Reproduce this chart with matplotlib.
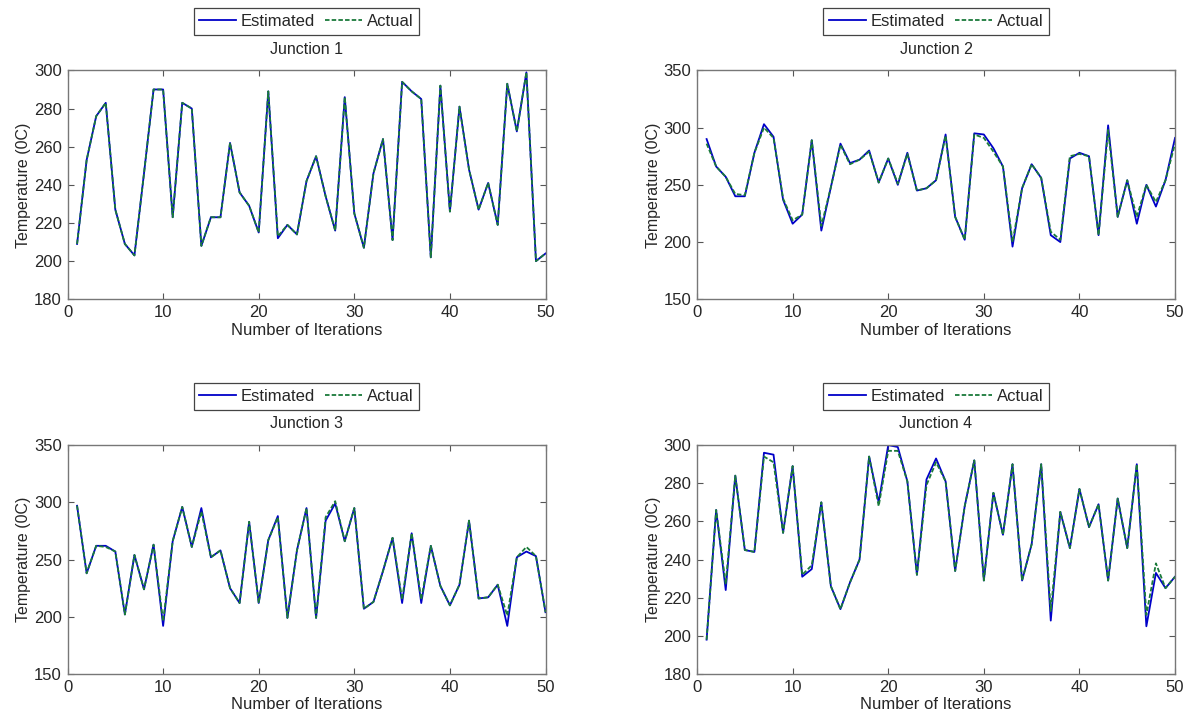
import numpy as np
import matplotlib
matplotlib.use("Agg")
import matplotlib.pyplot as plt

plt.rcParams["font.family"] = ["Liberation Sans", "DejaVu Sans"]

iterations = np.arange(1, 51)

est_j1 = [209, 253, 276, 283, 227, 209, 203, 246, 290, 290, 223, 283, 280, 208, 223,
          223, 262, 236, 229, 215, 289, 212, 219, 214, 242, 255, 234, 216, 286, 225,
          207, 246, 264, 211, 294, 289, 285, 202, 292, 226, 281, 248, 227, 241, 219,
          293, 268, 299, 200, 204]
act_j1 = [209, 253, 276, 283, 227, 209, 203, 246, 290, 290, 223, 283, 280, 208, 223,
          223, 262, 236, 229, 215, 289, 213, 219, 214, 242, 255, 234, 216, 286, 225,
          207, 246, 264, 211, 294, 289, 285, 202, 292, 226, 281, 248, 227, 241, 219,
          293, 268, 299, 200, 204]

est_j2 = [290, 266, 257, 240, 240, 278, 303, 292, 237, 216, 224, 289, 210, 248, 286,
          269, 272, 280, 252, 273, 250, 278, 245, 247, 254, 294, 222, 202, 295, 294,
          282, 266, 196, 247, 268, 256, 206, 200, 273, 278, 275, 206, 302, 222, 254,
          216, 250, 231, 254, 291]
act_j2 = [286, 266, 257, 242, 241, 278, 300, 291, 238, 219, 224, 289, 214, 248, 285,
          268, 272, 279, 252, 273, 251, 277, 245, 247, 254, 293, 222, 202, 294, 291,
          279, 266, 200, 247, 268, 256, 209, 202, 275, 277, 275, 206, 298, 222, 254,
          222, 250, 235, 254, 286]

est_j3 = [297, 238, 262, 262, 257, 202, 254, 224, 263, 192, 266, 296, 261, 295, 252,
          258, 225, 212, 283, 212, 267, 288, 199, 258, 295, 199, 284, 299, 266, 295,
          207, 213, 240, 269, 212, 273, 212, 262, 227, 210, 228, 284, 216, 217, 228,
          192, 252, 257, 253, 204]
act_j3 = [297, 238, 262, 261, 257, 202, 254, 224, 263, 196, 266, 296, 261, 292, 252,
          258, 225, 212, 283, 212, 267, 287, 199, 258, 295, 199, 287, 301, 266, 295,
          207, 213, 240, 269, 215, 273, 215, 262, 227, 210, 228, 284, 216, 217, 228,
          201, 252, 261, 253, 204]

est_j4 = [198, 266, 224, 284, 245, 244, 296, 295, 254, 289, 231, 235, 270, 226, 214,
          228, 240, 294, 270, 300, 299, 281, 232, 282, 293, 281, 234, 268, 292, 229,
          275, 253, 290, 229, 248, 290, 208, 265, 246, 277, 257, 269, 229, 272, 246,
          290, 205, 233, 225, 231]
act_j4 = [198, 266, 227, 284, 245, 244, 294, 291, 254, 289, 232, 237, 270, 226, 214,
          228, 240, 294, 268, 297, 297, 281, 232, 279, 291, 281, 234, 268, 292, 229,
          275, 253, 290, 229, 248, 290, 213, 265, 246, 277, 257, 269, 229, 272, 246,
          290, 211, 238, 225, 231]

titles = ["Junction 1", "Junction 2", "Junction 3", "Junction 4"]
ylims = [(180, 300), (150, 350), (150, 350), (180, 300)]
ysteps = [20, 50, 50, 20]

estimated = [est_j1, est_j2, est_j3, est_j4]
actual = [act_j1, act_j2, act_j3, act_j4]

fig = plt.figure(figsize=(11.95, 7.22), dpi=100)

# axes boxes in figure fractions (left, bottom, width, height)
boxes = [
    (0.0565, 0.5855, 0.400, 0.317),
    (0.5833, 0.5855, 0.400, 0.317),
    (0.0565, 0.0665, 0.400, 0.317),
    (0.5833, 0.0665, 0.400, 0.317),
]

txt = "#262626"

for k in range(4):
    ax = fig.add_axes(boxes[k])
    ax.plot(iterations, estimated[k], color="#0000c8", lw=1.3, label="Estimated")
    ax.plot(iterations, actual[k], color="#1a7a3a", lw=1.3, ls="--",
            dashes=(2.5, 1.2), label="Actual")

    ax.set_xlim(0, 50)
    ax.set_ylim(*ylims[k])
    ax.set_xticks(np.arange(0, 51, 10))
    ax.set_yticks(np.arange(ylims[k][0], ylims[k][1] + 1, ysteps[k]))
    ax.tick_params(direction="in", top=True, right=True, labelsize=12,
                   length=4, pad=4, color="#555555", labelcolor=txt)
    for sp in ax.spines.values():
        sp.set_color("#777777")
        sp.set_linewidth(1.0)

    ax.set_xlabel("Number of Iterations", fontsize=12, labelpad=2, color=txt)
    ax.set_ylabel("Temperature (0C)", fontsize=11.5, labelpad=2, color=txt)
    ax.set_title(titles[k], fontsize=11.5, pad=12, color=txt)

    leg = ax.legend(loc="lower center", bbox_to_anchor=(0.5, 1.155), ncol=2,
                    fontsize=12, frameon=True, fancybox=False, framealpha=1,
                    edgecolor="#444444", borderpad=0.35, handlelength=2.2,
                    handletextpad=0.3, columnspacing=0.6, borderaxespad=0,
                    labelcolor=txt)
    leg.get_frame().set_linewidth(0.9)

fig.savefig("out.png", dpi=100)
